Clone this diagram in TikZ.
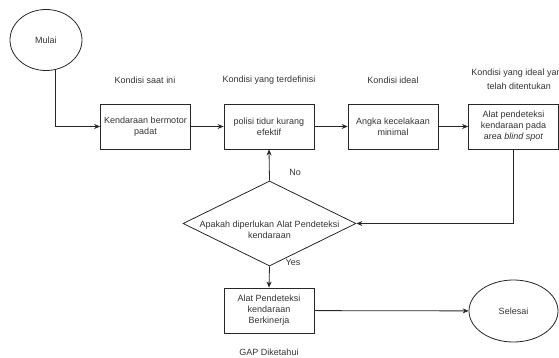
\documentclass[tikz,border=0pt]{standalone}
\usepackage{fontspec}
\setmainfont{Liberation Sans}
\usetikzlibrary{shapes.geometric,arrows.meta,positioning,calc}

\begin{document}
\begin{tikzpicture}[x=1pt,y=-1pt,
    font=\fontsize{9}{11}\selectfont,
    every node/.style={text=black!80},
    proses/.style={draw=black!85, line width=0.8pt, rectangle, minimum width=90pt, minimum height=45pt, align=center, inner sep=2pt},
    terminal/.style={draw=black!85, line width=0.8pt, ellipse, minimum width=84pt, minimum height=61pt},
    keputusan/.style={draw=black!85, line width=0.8pt, diamond, minimum width=173pt, minimum height=85pt, inner sep=0pt},
    judul/.style={align=center},
    panah/.style={draw=black!85, line width=0.8pt, -{Stealth[length=6pt,width=5pt]}}]
    \useasboundingbox (0,0) rectangle (559,358);

    % Mulai
    \node[terminal, minimum width=72pt] (mulai) at (46,40) {Mulai};

    % Baris kondisi
    \node[judul] (lblsaat) at (145,80) {Kondisi saat ini};
    \node[proses] (kendaraan) at (145.5,126.5) {Kendaraan bermotor\\padat};

    \node[judul] (lbldef) at (269,80) {Kondisi yang terdefinisi};
    \node[proses] (polisi) at (269,126.5) {polisi tidur kurang\\efektif};

    \node[judul] (lblideal) at (393,80) {Kondisi ideal};
    \node[proses] (angka) at (393,126.5) {Angka kecelakaan\\minimal};

    \node[judul] (lbltentu) at (519,79.5) {Kondisi yang ideal yang\\[3pt]telah ditentukan};
    \node[proses] (alatspot) at (513.5,126.5) {Alat pendeteksi\\kendaraan pada\\area \textit{blind spot}};

    % Keputusan
    \node[keputusan] (cek) at (269.5,223.5) {};
    \node[align=center] (cektext) at (269.5,229.5) {Apakah diperlukan Alat Pendeteksi\\kendaraan};
    \node (no) at (295,172) {No};
    \node (yes) at (293,262) {Yes};

    % Hasil
    \node[proses] (alat) at (269,310.5) {Alat Pendeteksi\\kendaraan\\Berkinerja};
    \node[judul] (lblgap) at (269,352) {GAP Diketahui};
    \node[terminal, minimum width=89pt, minimum height=62pt] (selesai) at (513.5,311) {Selesai};

    % Panah
    \draw[panah] (mulai.-73) |- (kendaraan.west);
    \draw[panah] (kendaraan) -- (polisi);
    \draw[panah] (polisi) -- (angka);
    \draw[panah] (angka) -- (alatspot);
    \draw[panah] (alatspot.south) |- (cek.east);
    \draw[panah] (cek.north) -- (polisi.south);
    \draw[panah] (cek.south) -- (alat.north);
    \draw[panah] (alat) -- (selesai);
\end{tikzpicture}
\end{document}
